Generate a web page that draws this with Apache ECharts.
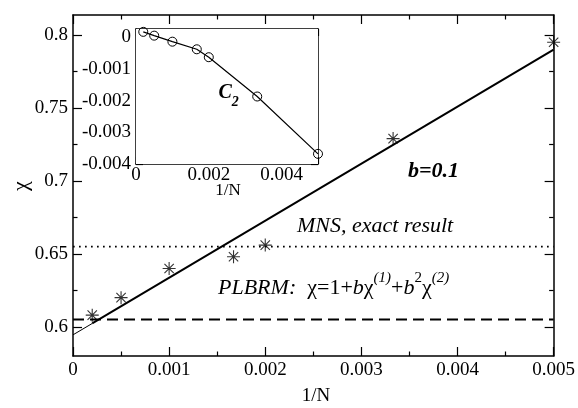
<!DOCTYPE html>
<html>
<head>
<meta charset="utf-8">
<script src="https://cdn.jsdelivr.net/npm/echarts@6/dist/echarts.min.js"></script>
<style>html,body{margin:0;padding:0;background:#fff}#c{width:578px;height:408px}</style>
</head>
<body>
<div id="c"></div>
<script>
// ---- data ----
const starX = [0.0002, 0.0005, 0.001, 0.00167, 0.002, 0.00333, 0.005];
const starY = [0.608, 0.620, 0.640, 0.648, 0.656, 0.729, 0.795];
const fitX = [0, 0.0002, 0.005];
const fitY = [0.5945, 0.6023, 0.790];
const mnsY = 0.655;
const plbrmY = 0.605;
const insetX = [0.0002, 0.0005, 0.001, 0.00167, 0.002, 0.00333, 0.005];
const insetY = [0.00017, 0.00005, -0.00014, -0.00038, -0.00063, -0.00187, -0.00368];
const mainYTicks = [0.6, 0.65, 0.7, 0.75, 0.8];
const mainYMinor = [0.625, 0.675, 0.725, 0.775];
const insetYTicks = [0, -0.001, -0.002, -0.003, -0.004];
const insetYMinor = [-0.0005, -0.0015, -0.0025, -0.0035];
const insetXLabels = [0, 0.002, 0.004];

const FONT = 'Liberation Serif';
const pair = (xs, ys) => xs.map((x, i) => [x, ys[i]]);
const labRich = {t: {fontFamily: FONT, fontSize: 19, color: '#000'}};
const fmtAll = v => '{t|' + String(+v.toPrecision(6)) + '}';

function xAx(grid, pos, labels, len, mlen, fmt, margin) {
  return {
    type: 'value', gridIndex: grid, position: pos, min: 0, max: 0.005, interval: 0.001,
    axisLine: {show: true, onZero: false, lineStyle: {color: '#000', width: 1.5}},
    axisTick: {show: true, inside: true, length: len, lineStyle: {color: '#000', width: 1.2}},
    minorTick: {show: true, splitNumber: 2, length: mlen, lineStyle: {color: '#000', width: 1.2}},
    axisLabel: {show: labels, color: '#000', fontSize: 19, fontFamily: FONT, margin: margin || 5,
                formatter: fmt || fmtAll, rich: labRich},
    splitLine: {show: false}, minorSplitLine: {show: false}
  };
}
function yAx(grid, pos, min, max, vals, labels, len, line) {
  return {
    type: 'value', gridIndex: grid, position: pos, min: min, max: max,
    axisLine: {show: line, onZero: false, lineStyle: {color: '#000', width: 1.5}},
    axisTick: {show: true, inside: true, length: len, customValues: vals, lineStyle: {color: '#000', width: 1.2}},
    axisLabel: {show: labels, customValues: vals, color: '#000', fontSize: 19, fontFamily: FONT, margin: 5,
                formatter: fmtAll, rich: labRich},
    splitLine: {show: false}
  };
}
const insetFmt = v => insetXLabels.some(t => Math.abs(t - v) < 1e-9) ? fmtAll(v) : '';

const option = {
  animation: false,
  backgroundColor: '#fff',
  textStyle: {fontFamily: FONT},
  grid: [
    {left: 73, top: 15, width: 483, height: 341, show: false},
    {left: 136, top: 29, width: 182, height: 135, show: true, backgroundColor: '#fff', borderWidth: 0, z: 5}
  ],
  xAxis: [
    xAx(0, 'bottom', true, 9, 4.5),
    xAx(0, 'top', false, 9, 4.5),
    xAx(1, 'bottom', true, 7, 4, insetFmt, 2),
    xAx(1, 'top', false, 7, 4)
  ],
  yAxis: [
    yAx(0, 'left', 0.58, 0.8137, mainYTicks, true, 9, true),
    yAx(0, 'left', 0.58, 0.8137, mainYMinor, false, 4.5, false),
    yAx(0, 'right', 0.58, 0.8137, mainYTicks, false, 9, true),
    yAx(0, 'right', 0.58, 0.8137, mainYMinor, false, 4.5, false),
    yAx(1, 'left', -0.004, 0.00026, insetYTicks, true, 7, true),
    yAx(1, 'left', -0.004, 0.00026, insetYMinor, false, 4, false),
    yAx(1, 'right', -0.004, 0.00026, insetYTicks, false, 7, true),
    yAx(1, 'right', -0.004, 0.00026, insetYMinor, false, 4, false)
  ],
  series: [
    {type: 'line', xAxisIndex: 0, yAxisIndex: 0, data: pair(fitX.slice(0, 2), fitY.slice(0, 2)),
     symbol: 'none', lineStyle: {color: '#000', width: 1}, clip: false},
    {type: 'line', xAxisIndex: 0, yAxisIndex: 0, data: pair(fitX.slice(1), fitY.slice(1)),
     symbol: 'none', lineStyle: {color: '#000', width: 2}, clip: false},
    {type: 'line', xAxisIndex: 0, yAxisIndex: 0, data: [[0, mnsY], [0.005, mnsY]],
     symbol: 'none', lineStyle: {color: '#000', width: 1.7, type: [1.7, 4.3]}},
    {type: 'line', xAxisIndex: 0, yAxisIndex: 0, data: [[0, plbrmY], [0.005, plbrmY]],
     symbol: 'none', lineStyle: {color: '#000', width: 2, type: [11, 6]}},
    {type: 'scatter', xAxisIndex: 0, yAxisIndex: 0, data: pair(starX, starY), clip: false,
     symbol: 'path://M0,-1L0,1M-1,0L1,0M-0.72,-0.72L0.72,0.72M-0.72,0.72L0.72,-0.72',
     symbolSize: [13, 13],
     itemStyle: {color: 'none', borderColor: '#000', borderWidth: 1.1}},
    {type: 'line', xAxisIndex: 2, yAxisIndex: 4, data: pair(insetX, insetY), clip: false, z: 10,
     symbol: 'circle', symbolSize: 9,
     lineStyle: {color: '#000', width: 1.2},
     itemStyle: {color: 'rgba(0,0,0,0)', borderColor: '#000', borderWidth: 1}}
  ],
  graphic: [
    {type: 'text', x: 316, y: 396, z: 20,
     style: {text: '1/N', font: '19px ' + FONT, fill: '#000', align: 'center', verticalAlign: 'middle'}},
    {type: 'text', x: 21, y: 186, rotation: Math.PI / 2, z: 20,
     style: {text: 'χ', font: '22px ' + FONT, fill: '#000', align: 'center', verticalAlign: 'middle'}},
    {type: 'text', x: 228, y: 191, z: 20,
     style: {text: '1/N', font: '17px ' + FONT, fill: '#000', align: 'center', verticalAlign: 'middle'}},
    {type: 'text', x: 297, y: 226, z: 20,
     style: {text: 'MNS, exact result', font: 'italic 22px ' + FONT, fill: '#000', align: 'left', verticalAlign: 'middle'}},
    {type: 'text', x: 408, y: 171, z: 20,
     style: {text: 'b=0.1', font: 'italic bold 22px ' + FONT, fill: '#000', align: 'left', verticalAlign: 'middle'}},
    {type: 'text', x: 217, y: 271, z: 20,
     style: {
       text: '{sp| }{i|PLBRM:  }{n|χ=1+}{i|b}{n|χ}{si|(1)}{n|+}{i|b}{s|2}{n|χ}{si|(2)}',
       align: 'left', verticalAlign: 'top',
       rich: {
         sp: {fontSize: 4, lineHeight: 28, fontFamily: FONT},
         i: {fontFamily: FONT, fontSize: 22, fontStyle: 'italic', lineHeight: 22, verticalAlign: 'bottom', fill: '#000'},
         n: {fontFamily: FONT, fontSize: 22, lineHeight: 22, verticalAlign: 'bottom', fill: '#000'},
         si: {fontFamily: FONT, fontSize: 15, fontStyle: 'italic', lineHeight: 15, verticalAlign: 'top', fill: '#000'},
         s: {fontFamily: FONT, fontSize: 15, lineHeight: 15, verticalAlign: 'top', fill: '#000'}
       }
     }},
    {type: 'text', x: 218, y: 83, z: 20,
     style: {
       text: '{sp| }{c|C}{d|2}',
       align: 'left', verticalAlign: 'top',
       rich: {
         sp: {fontSize: 2, lineHeight: 26, fontFamily: FONT},
         c: {fontFamily: FONT, fontSize: 20, fontStyle: 'italic', fontWeight: 'bold', lineHeight: 20, verticalAlign: 'top', fill: '#000'},
         d: {fontFamily: FONT, fontSize: 14, fontStyle: 'italic', fontWeight: 'bold', lineHeight: 14, verticalAlign: 'bottom', fill: '#000'}
       }
     }}
  ]
};
const chart = echarts.init(document.getElementById('c'), null, {renderer: 'canvas'});
chart.setOption(option);
</script>
</body>
</html>
